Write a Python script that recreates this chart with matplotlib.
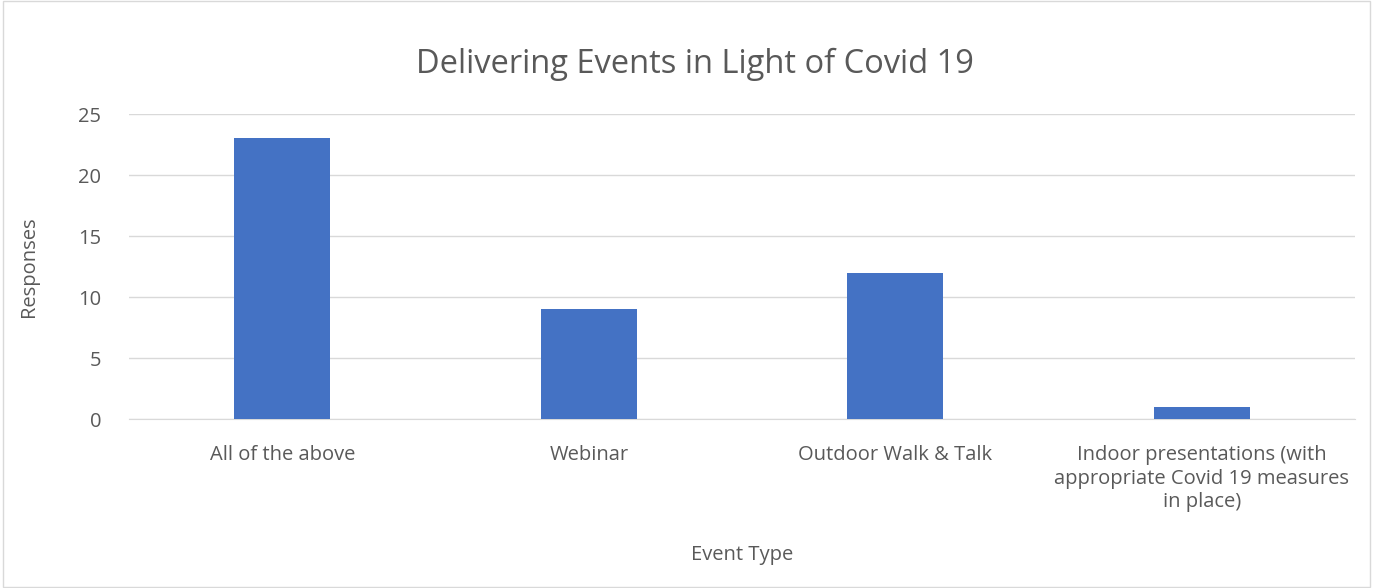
import matplotlib.pyplot as plt
from matplotlib.patches import Rectangle

categories = ['All of the above', 'Webinar', 'Outdoor Walk & Talk',
              'Indoor presentations (with\nappropriate Covid 19 measures\nin place)']
responses = [23, 9, 12, 1]
yticks = [0, 5, 10, 15, 20, 25]

plt.rcParams['font.family'] = ['Open Sans', 'DejaVu Sans']
txt = '#595959'

fig = plt.figure(figsize=(13.73, 5.88), dpi=100)
ax = fig.add_axes([0.094, 0.2874, 0.893, 0.5187])
x = range(len(categories))
ax.bar(x, responses, width=0.314, color='#4472C4', zorder=3)
ax.set_xlim(-0.5, len(categories) - 0.5)
ax.set_ylim(0, 25)
ax.set_yticks(yticks)
ax.set_xticks(list(x))
ax.set_xticklabels(categories, fontsize=14.5, color=txt, linespacing=1.22)
ax.tick_params(axis='y', labelsize=14.5, labelcolor=txt, length=0, pad=20)
ax.tick_params(axis='x', length=0, pad=19)
ax.grid(axis='y', color='#D9D9D9', linewidth=1, zorder=0)
for s in ['top', 'right', 'left']:
    ax.spines[s].set_visible(False)
ax.spines['bottom'].set_color('#D9D9D9')
ax.set_ylabel('Responses', fontsize=14.5, color=txt, labelpad=28)
ax.set_xlabel('Event Type', fontsize=14.5, color=txt, labelpad=24)
fig.text(0.506, 0.89, 'Delivering Events in Light of Covid 19', ha='center', va='center',
         fontsize=23.5, color=txt)
fig.patches.append(Rectangle((0.002, 0.002), 0.996, 0.996, transform=fig.transFigure,
                             fill=False, edgecolor='#D9D9D9', linewidth=1))
fig.savefig('out.png', dpi=100)
